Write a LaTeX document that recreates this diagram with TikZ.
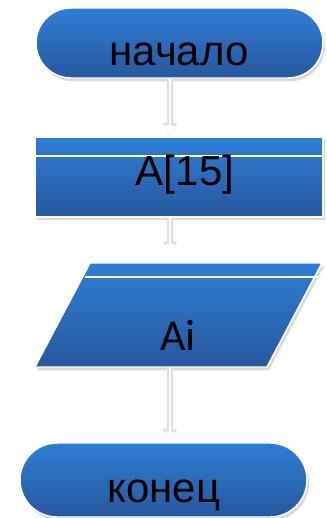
\documentclass[tikz,border=0pt]{standalone}
\usepackage{fontspec}
\setmainfont{Liberation Sans}
\newfontfamily\calfont{Carlito}
\usetikzlibrary{shapes.misc,shadows,arrows.meta}
\definecolor{topb}{RGB}{47,125,212}
\definecolor{botb}{RGB}{40,88,158}
\begin{document}
\begin{tikzpicture}[x=0.75pt,y=-0.75pt,
  blk/.style={draw=white, line width=1.1pt, top color=topb, bottom color=botb,
    drop shadow={shadow xshift=1.5pt,shadow yshift=-2.5pt,opacity=0.3}, inner sep=0pt},
  term/.style={blk, rounded rectangle, minimum width=215.25pt},
  strip/.style={draw=white, line width=1.1pt},
  lbl/.style={anchor=base, text=black, inner sep=0pt, font=\fontsize{31.5}{36}\selectfont},
  conn/.style={draw=white, line width=1.4pt, -{Triangle[width=7pt,length=8pt]},
    preaction={draw=black!13, line width=4pt, -{Triangle[width=10pt,length=10pt]}}}
]
\useasboundingbox (0,0) rectangle (326,518);
\node[term, minimum height=52.5pt] (start) at (179.5,43) {};
\node[blk, rectangle, minimum width=216pt, minimum height=60pt] (box) at (179,177) {};
\draw[strip] (35,156) -- (322,156);
\node[inner sep=0pt, minimum width=215.25pt, minimum height=78pt] (par) at (178.5,315) {};
\draw[blk] (35,367) -- (90,263) -- (322,263) -- (267,367) -- cycle;
\draw[strip] (85,277) -- (325,277);
\node[term, minimum height=55.5pt] (end) at (163.5,480) {};
\node[lbl] (t1) at (179,65) {начало};
\node[lbl] (t2) at (185,185) {A[15]};
\node[lbl, font=\calfont\fontsize{33}{38}\selectfont] (t3) at (178,350) {Ai};
\node[lbl] (t4) at (164,502) {конец};
\draw[conn] ([xshift=-7.125pt]start.south) -- ([xshift=-6.75pt]box.north);
\draw[conn, shorten >=6pt] ([xshift=-6.75pt]box.south) -- ([xshift=-6.375pt]par.north);
\draw[conn] ([xshift=-6.375pt]par.south) -- ([xshift=4.875pt]end.north);
\end{tikzpicture}
\end{document}
